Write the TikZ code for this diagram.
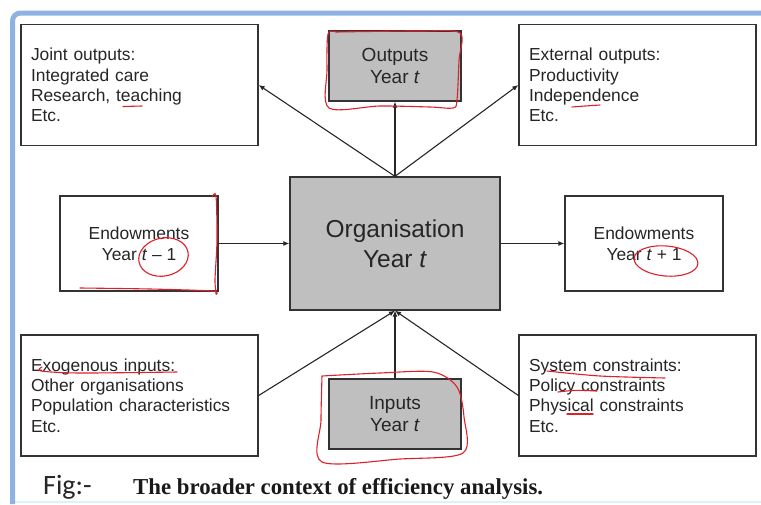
\documentclass[tikz,border=0pt]{standalone}
\usepackage{fontspec}
\setmainfont{Liberation Sans}
\newfontfamily\figfont{Carlito}
\newfontfamily\capfont{Liberation Serif}
\usetikzlibrary{arrows.meta, positioning}
\definecolor{boxgray}{RGB}{191,191,191}
\definecolor{framebl}{RGB}{141,179,226}
\definecolor{palecyan}{RGB}{221,241,246}
\definecolor{penred}{RGB}{222,32,40}
\tikzset{
  listbox/.style={draw=black!80, line width=1.3pt, fill=white, inner xsep=10pt,
    minimum height=121pt, text width=217pt, align=left, text=black!85,
    font=\fontsize{17.4}{20.4}\selectfont},
  endbox/.style={draw=black!80, line width=1.3pt, fill=white, minimum width=158pt,
    minimum height=95pt, align=center, text=black!85,
    font=\fontsize{17.4}{21}\selectfont},
  graybox/.style={draw=black!80, line width=1.3pt, fill=boxgray, align=center,
    text=black!85},
  conn/.style={line width=1.1pt, black!85, -{Latex[length=6pt,width=5pt]}},
  annot/.style={penred, line width=1.1pt, line cap=round, line join=round},
}
\begin{document}
\begin{tikzpicture}[x=1pt,y=-1pt]
    \useasboundingbox (0,0) rectangle (761,504);

    % Frame
    \draw[palecyan, line width=2pt] (15,502) -- (761,502);
    \draw[framebl, line width=5pt, rounded corners=8pt] (12.5,504) -- (12.5,13) -- (761,13);

    % Centre box
    \node[graybox, minimum width=210pt, minimum height=133pt,
      font=\fontsize{24.5}{30}\selectfont] (org) at (395,243.5) {Organisation\\Year \textit{t}};

    % Outputs and inputs
    \node[graybox, minimum width=132pt, minimum height=70pt,
      font=\fontsize{19}{22}\selectfont] (outputs) at (395,66) {Outputs\\Year \textit{t}};
    \node[graybox, minimum width=132pt, minimum height=70pt,
      font=\fontsize{19}{22}\selectfont] (inputs) at (395,414) {Inputs\\Year \textit{t}};

    % Endowments
    \node[endbox] (endprev) at (139,243.5) {Endowments\\Year \textit{t} -- 1};
    \node[endbox] (endnext) at (644,243.5) {Endowments\\Year \textit{t} + 1};

    % Corner boxes
    \node[listbox] (joint) at (139.5,85) {Joint outputs:\\Integrated care\\Research, teaching\\Etc.};
    \node[listbox] (external) at (637.5,85) {External outputs:\\Productivity\\Independence\\Etc.};
    \node[listbox] (exog) at (139.5,395.5) {Exogenous inputs:\\Other organisations\\Population characteristics\\Etc.};
    \node[listbox] (system) at (637.5,395.5) {System constraints:\\Policy constraints\\Physical constraints\\Etc.};

    % Connectors
    \draw[conn] (org.north) -- (outputs.south);
    \draw[conn] (org.north) -- (joint.east);
    \draw[conn] (org.north) -- (external.west);
    \draw[conn] (endprev.east) -- (org.west);
    \draw[conn] (org.east) -- (endnext.west);
    \draw[conn] (exog.east) -- (org.south);
    \draw[conn] (inputs.north) -- (org.south);
    \draw[conn] (system.west) -- (org.south);

    % Caption
    \node[anchor=base west, inner sep=0pt, text=black!85,
      font=\figfont\fontsize{28}{32}\selectfont] (figlbl) at (43,494) {Fig:-};
    \node[anchor=base west, inner sep=0pt, text=black!90,
      font=\capfont\bfseries\fontsize{22.8}{27}\selectfont] (caption) at (133,494)
      {The broader context of efficiency analysis.};

    % Pen marks
    \draw[annot] plot[smooth] coordinates {(336,32) (328,34) (327,70) (329,108) (380,106) (430,107) (453,108) (457,100) (459,60) (460,33) (420,31) (336,32)};
    \draw[annot] plot[smooth] coordinates {(322,376) (380,373) (433,372) (457,387) (464,417) (463,453) (400,459) (322,462) (321,420) (322,376)};
    \draw[annot] plot[smooth] coordinates {(80,288) (150,289) (212,291) (216,294) (215,280) (217,240) (216,196) (212,197)};
    \draw[annot, rotate around={12:(163.5,257)}] (163.5,257) ellipse [x radius=25pt, y radius=19pt];
    \draw[annot, rotate around={-5:(666,261)}] (666,261) ellipse [x radius=32pt, y radius=15pt];
    \draw[annot] (123,106.5) -- (142,106);
    \draw[annot] (572,107) .. controls (585,106) .. (600,105);
    \draw[annot] plot[smooth] coordinates {(42,367) (41,371) (80,373) (177,372)};
    \draw[annot] plot[smooth] coordinates {(547,371) (600,376) (665,378)};
    \draw[annot] (558,392) .. controls (575,390) .. (597,391);
    \draw[annot] (567,414) -- (593,414);
\end{tikzpicture}
\end{document}
